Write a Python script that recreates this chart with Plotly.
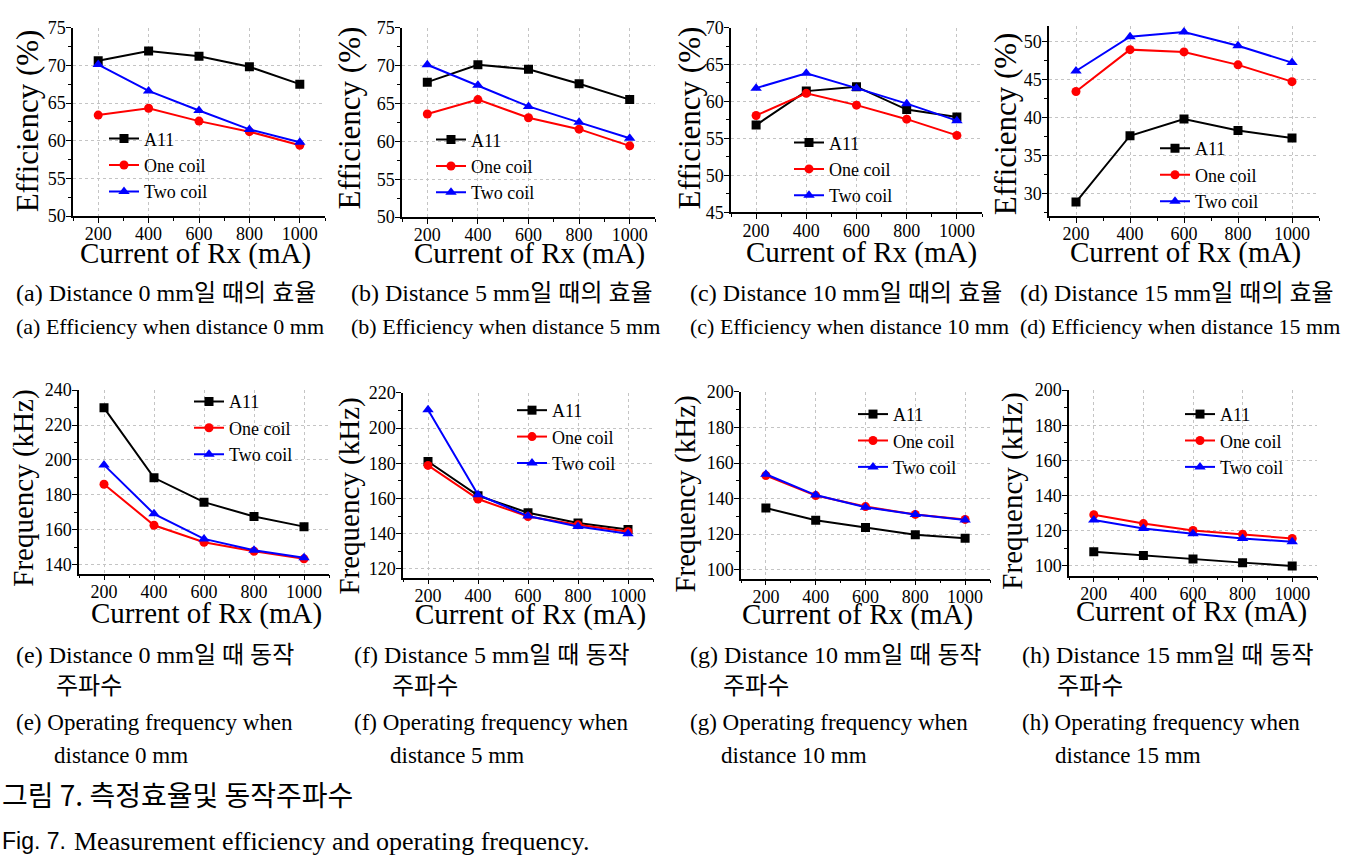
import plotly.graph_objects as go

W, H = 1356, 867

# ---------------- data ----------------
currents = [200, 400, 600, 800, 1000]
series_names = ["A11", "One coil", "Two coil"]

eff_0mm_a11 = [70.6, 71.9, 71.2, 69.8, 67.5]
eff_0mm_one = [63.4, 64.3, 62.6, 61.2, 59.4]
eff_0mm_two = [70.1, 66.6, 64.0, 61.5, 59.8]

eff_5mm_a11 = [67.8, 70.1, 69.5, 67.6, 65.5]
eff_5mm_one = [63.6, 65.5, 63.1, 61.6, 59.4]
eff_5mm_two = [70.1, 67.4, 64.6, 62.5, 60.4]

eff_10mm_a11 = [56.8, 61.4, 62.0, 58.9, 57.9]
eff_10mm_one = [58.1, 61.1, 59.5, 57.6, 55.4]
eff_10mm_two = [61.8, 63.8, 61.8, 59.7, 57.4]

eff_15mm_a11 = [28.9, 37.6, 39.8, 38.3, 37.3]
eff_15mm_one = [43.4, 48.9, 48.6, 46.9, 44.7]
eff_15mm_two = [46.1, 50.6, 51.2, 49.4, 47.2]

freq_0mm_a11 = [229.8, 189.8, 175.9, 167.7, 161.9]
freq_0mm_one = [186.1, 162.7, 153.0, 147.8, 143.5]
freq_0mm_two = [197.2, 169.2, 154.9, 148.4, 144.1]

freq_5mm_a11 = [181.0, 161.6, 151.9, 146.0, 142.3]
freq_5mm_one = [178.8, 159.7, 149.7, 145.0, 141.1]
freq_5mm_two = [210.4, 162.1, 150.0, 144.0, 139.9]

freq_10mm_a11 = [134.7, 127.8, 123.8, 119.7, 117.7]
freq_10mm_one = [153.0, 141.7, 135.5, 131.1, 128.3]
freq_10mm_two = [153.7, 142.0, 135.1, 131.1, 128.0]

freq_15mm_a11 = [108.1, 105.9, 103.9, 101.9, 100.0]
freq_15mm_one = [129.1, 124.1, 120.2, 118.0, 115.6]
freq_15mm_two = [126.1, 121.3, 118.3, 115.6, 113.7]

x_tick_vals = [200, 400, 600, 800, 1000]
x_title = "Current of Rx (mA)"
eff_title = "Efficiency (%)"
freq_title = "Frequency (kHz)"

caption_ko_eff = ["(a) Distance 0 mm일 때의 효율", "(b) Distance 5 mm일 때의 효율",
                  "(c) Distance 10 mm일 때의 효율", "(d) Distance 15 mm일 때의 효율"]
caption_en_eff = ["(a) Efficiency when distance 0 mm", "(b) Efficiency when distance 5 mm",
                  "(c) Efficiency when distance 10 mm", "(d) Efficiency when distance 15 mm"]
caption_ko_freq1 = ["(e) Distance 0 mm일 때 동작", "(f) Distance 5 mm일 때 동작",
                    "(g) Distance 10 mm일 때 동작", "(h) Distance 15 mm일 때 동작"]
caption_ko_freq2 = ["주파수", "주파수", "주파수", "주파수"]
caption_en_freq1 = ["(e) Operating frequency when", "(f) Operating frequency when",
                    "(g) Operating frequency when", "(h) Operating frequency when"]
caption_en_freq2 = ["distance 0 mm", "distance 5 mm", "distance 10 mm", "distance 15 mm"]
fig_title_ko = "그림 7. 측정효율및 동작주파수"
fig_title_en_a = "Fig. 7."
fig_title_en_b = "Measurement efficiency and operating frequency."

# ---------------- layout config ----------------
def px(x):
    return x / W

def py(y):
    return 1 - y / H

SERIF = "Liberation Serif, Times New Roman, serif"
KO = "Liberation Serif, Noto Sans CJK KR, serif"
colors = ["#000000", "#ff0000", "#0000ff"]
symbols = ["square", "circle", "triangle-up"]
msizes = [9, 9, 10]

# legend: (sample centre x, first row centre y)
panels = [
    dict(data=[eff_0mm_a11, eff_0mm_one, eff_0mm_two], yt=eff_title, yts=31, box=(73, 325, 18, 211),
         yr=[50, 75], t0=50, dt=5, ytc=(27, 114), xtc=(195, 248), leg=(120, 140)),
    dict(data=[eff_5mm_a11, eff_5mm_one, eff_5mm_two], yt=eff_title, yts=31, box=(402, 655, 18, 212),
         yr=[50, 75], t0=50, dt=5, ytc=(349, 111), xtc=(529, 248), leg=(447, 141)),
    dict(data=[eff_10mm_a11, eff_10mm_one, eff_10mm_two], yt=eff_title, yts=31, box=(731, 982, 18, 207),
         yr=[45, 70], t0=45, dt=5, ytc=(689, 111), xtc=(861, 247), leg=(805, 144)),
    dict(data=[eff_15mm_a11, eff_15mm_one, eff_15mm_two], yt=eff_title, yts=31, box=(1049, 1319, 16, 211),
         yr=[27.05, 52.05], t0=30, dt=5, ytc=(1005, 117), xtc=(1185, 247), leg=(1171, 150)),
    dict(data=[freq_0mm_a11, freq_0mm_one, freq_0mm_two], yt=freq_title, yts=29, box=(79, 329, 389, 577),
         yr=[135, 240], t0=140, dt=20, ytc=(24, 490), xtc=(207, 617), leg=(205, 409)),
    dict(data=[freq_5mm_a11, freq_5mm_one, freq_5mm_two], yt=freq_title, yts=29, box=(403, 653, 392, 581),
         yr=[115, 220], t0=120, dt=20, ytc=(350, 497), xtc=(530, 618), leg=(528, 418)),
    dict(data=[freq_10mm_a11, freq_10mm_one, freq_10mm_two], yt=freq_title, yts=29, box=(741, 990, 391, 582),
         yr=[95, 200], t0=100, dt=20, ytc=(686, 496), xtc=(857, 618), leg=(869, 422)),
    dict(data=[freq_15mm_a11, freq_15mm_one, freq_15mm_two], yt=freq_title, yts=29, box=(1069, 1317, 389, 579),
         yr=[94.5, 200], t0=100, dt=20, ytc=(1013, 493), xtc=(1191, 615), leg=(1196, 422)),
]

fig = go.Figure()
layout = dict(width=W, height=H, autosize=False,
              margin=dict(l=0, r=0, t=0, b=0),
              paper_bgcolor="white", plot_bgcolor="white",
              showlegend=True, annotations=[])

for i, p in enumerate(panels):
    k = "" if i == 0 else str(i + 1)
    x0, x1, y0, y1 = p["box"]
    legname = "legend" if i == 0 else f"legend{i + 1}"
    for s in range(3):
        fig.add_trace(go.Scatter(
            x=currents, y=p["data"][s], name=series_names[s], mode="lines+markers",
            line=dict(color=colors[s], width=2),
            marker=dict(symbol=symbols[s], size=msizes[s], color=colors[s]),
            xaxis="x" + k, yaxis="y" + k, legend=legname, showlegend=True))
    axis_common = dict(showline=True, linecolor="black", linewidth=1.5, mirror=False,
                       ticks="outside", ticklen=5, tickwidth=1.2, tickcolor="black",
                       showgrid=True, gridcolor="#c4c4c4", griddash="dot", gridwidth=1,
                       zeroline=False, tickfont=dict(family=SERIF, size=18, color="black"))
    layout["xaxis" + k] = dict(axis_common, domain=[px(x0), px(x1)], range=[100, 1100],
                               tickmode="array", tickvals=x_tick_vals,
                               anchor="y" + k, ticklabelstandoff=-4,
                               minor=dict(ticks="outside", ticklen=3, tickwidth=1, tickcolor="black",
                                          tickmode="linear", tick0=100, dtick=100, showgrid=False))
    layout["yaxis" + k] = dict(axis_common, domain=[py(y1), py(y0)], range=p["yr"],
                               tickmode="linear", tick0=p["t0"], dtick=p["dt"],
                               anchor="x" + k, ticklabelstandoff=-3,
                               minor=dict(ticks="outside", ticklen=3, tickwidth=1, tickcolor="black",
                                          tickmode="linear", tick0=p["t0"], dtick=p["dt"] / 2,
                                          showgrid=False))
    lx, ly = p["leg"]
    layout[legname] = dict(x=px(lx - 16), y=py(ly - 27), xanchor="left", yanchor="top",
                           bgcolor="rgba(0,0,0,0)", borderwidth=0,
                           font=dict(family=SERIF, size=18, color="black"),
                           tracegroupgap=0, itemsizing="trace")
    layout["annotations"].append(dict(
        text=p["yt"], x=px(p["ytc"][0]), y=py(p["ytc"][1]), xref="paper", yref="paper",
        textangle=-90, showarrow=False, xanchor="center", yanchor="middle",
        font=dict(family=SERIF, size=p["yts"], color="black")))
    layout["annotations"].append(dict(
        text=x_title, x=px(p["xtc"][0]), y=py(p["xtc"][1] + 1), xref="paper", yref="paper",
        showarrow=False, xanchor="center", yanchor="middle",
        font=dict(family=SERIF, size=29, color="black")))


def cap(text, x, y, size=23, family=KO):
    layout["annotations"].append(dict(
        text=text, x=px(x), y=py(y), xref="paper", yref="paper", showarrow=False,
        xanchor="left", yanchor="middle", font=dict(family=family, size=size, color="black")))


top_x = [14, 349, 688, 1018]
for j in range(4):
    cap(caption_ko_eff[j], top_x[j], 290, size=24)
    cap(caption_en_eff[j], top_x[j], 324, size=22)

bot_x = [14, 352, 688, 1020]
bot_x2 = [54, 390, 721, 1055]
for j in range(4):
    cap(caption_ko_freq1[j], bot_x[j], 660, size=24)
    cap(caption_ko_freq2[j], bot_x2[j], 692, size=24)
    cap(caption_en_freq1[j], bot_x[j], 729)
    cap(caption_en_freq2[j], bot_x2[j] - 2, 763)

cap(fig_title_ko, 0, 803, size=28, family="Noto Sans CJK KR, sans-serif")
cap(fig_title_en_a, 0, 851, size=23, family="Liberation Sans Narrow, Liberation Sans, sans-serif")
cap(fig_title_en_b, 72, 851, size=26, family=SERIF)

fig.update_layout(**layout)
fig.write_html("out.html", config={"displayModeBar": False},
               post_script="document.body.style.margin='0px';")
